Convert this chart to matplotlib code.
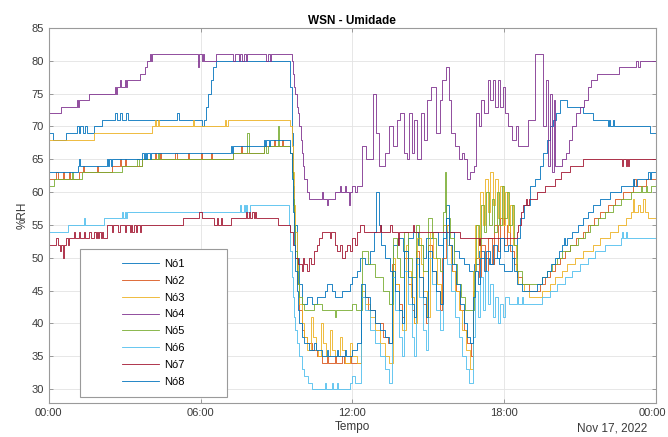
import matplotlib.pyplot as plt
import matplotlib.transforms as mtransforms
from matplotlib.patches import Rectangle

plt.rcParams['font.family'] = ['Liberation Sans', 'DejaVu Sans']

# (hora do dia, %RH)
no1 = [(0, 69), (0.15, 68), (0.7, 69), (1.1, 70), (1.2, 69), (1.25, 70), (1.35, 69), (1.45, 70), (1.5, 69),
       (1.8, 70), (2.1, 71), (2.6, 72), (2.7, 71), (2.8, 72), (2.9, 71), (3.05, 72), (3.15, 71), (5.05, 72),
       (5.15, 71), (6.05, 70), (6.15, 71), (6.2, 73), (6.3, 75), (6.4, 77), (6.5, 79), (6.6, 80),
       (9.55, 76), (9.6, 69), (9.65, 61), (9.7, 55), (9.8, 50), (9.9, 46), (10.0, 43), (10.2, 44), (10.4, 43),
       (10.6, 44), (10.9, 45), (11.0, 46), (11.2, 45), (11.3, 44), (11.6, 45), (11.9, 46), (12.0, 47),
       (12.2, 48), (12.3, 50), (12.5, 49), (12.7, 51), (12.85, 54), (12.95, 60), (13.05, 55), (13.15, 52),
       (13.3, 50), (13.5, 48), (13.6, 52), (13.8, 53), (14.0, 51), (14.2, 53), (14.4, 54), (14.6, 52),
       (14.8, 50), (14.9, 53), (15.2, 54), (15.4, 52), (15.6, 55), (15.7, 58), (15.8, 54), (16.0, 51),
       (16.2, 50), (16.4, 49), (16.6, 48), (16.8, 49), (17.0, 51), (17.2, 50), (17.4, 49), (17.6, 50),
       (17.8, 49), (18.0, 48), (18.3, 50), (18.5, 53), (18.62, 56), (18.8, 58), (19.02, 61), (19.2, 62),
       (19.41, 64), (19.55, 66), (19.69, 68), (19.8, 70), (19.93, 71), (20.05, 72), (20.2, 74), (20.5, 73),
       (21.1, 72), (21.5, 71), (22.1, 70), (22.15, 71), (22.2, 70), (22.3, 71), (22.35, 70), (23.75, 69),
       (24, 69)]

no2 = [(0, 62), (0.3, 63), (0.35, 62), (0.55, 63), (0.6, 62), (0.8, 63), (0.85, 62), (1.2, 63), (1.35, 64),
       (1.4, 63), (1.9, 64), (1.95, 63), (2.5, 64), (2.8, 65), (2.85, 64), (3.0, 65), (3.05, 64), (3.7, 65),
       (4.2, 66), (4.25, 65), (4.4, 66), (4.45, 65), (5.0, 66), (5.05, 65), (5.5, 66), (5.55, 65), (6.0, 66),
       (6.05, 65), (6.4, 66), (6.45, 65), (7.3, 66), (7.6, 67), (7.65, 66), (8.5, 67), (8.9, 68), (8.95, 67),
       (9.2, 68), (9.25, 67),
       (9.55, 66), (9.6, 63), (9.65, 58), (9.7, 54), (9.75, 50), (9.8, 46), (9.9, 42), (10.0, 39), (10.1, 38),
       (10.2, 37), (10.4, 36), (10.6, 35), (10.8, 34), (11.0, 35), (11.05, 34), (11.3, 35), (11.35, 34),
       (11.6, 35), (11.65, 34), (11.9, 35), (11.95, 34),
       (12.35, 44), (12.6, 42), (12.9, 40), (13.2, 38), (13.4, 37), (13.55, 49), (13.7, 46), (13.85, 43),
       (13.95, 41), (14.05, 50), (14.2, 46), (14.35, 42), (14.45, 40), (14.5, 51), (14.65, 47), (14.8, 43),
       (14.9, 40), (15.0, 52), (15.15, 48), (15.3, 45), (15.45, 42), (15.55, 50), (15.7, 55), (15.8, 52),
       (15.95, 48), (16.1, 45), (16.25, 42), (16.4, 39), (16.55, 37), (16.7, 35), (16.75, 45), (16.85, 50),
       (17.0, 47), (17.1, 52), (17.25, 48), (17.35, 53), (17.5, 49), (17.6, 55), (17.75, 51), (17.85, 56),
       (18.0, 52), (18.1, 55), (18.25, 51), (18.4, 49), (18.5, 47), (18.7, 46), (19.0, 45), (19.4, 46),
       (19.6, 47), (19.8, 48), (20.0, 49), (20.2, 50), (20.4, 51), (20.6, 52), (20.85, 53), (21.1, 54),
       (21.3, 55), (21.55, 56), (21.8, 57), (22.1, 58), (22.4, 59), (22.7, 60), (23.1, 61), (23.15, 62),
       (23.2, 61), (23.6, 62), (24, 62)]

no3 = [(0, 68), (1.8, 69), (4.1, 70), (4.2, 71), (4.25, 70), (4.3, 71), (4.35, 70), (5.7, 71), (5.75, 70),
       (6.95, 71), (7.0, 70), (7.1, 71),
       (9.55, 70), (9.6, 67), (9.65, 63), (9.7, 58), (9.75, 54), (9.8, 50), (9.85, 46), (9.9, 43), (10.0, 40),
       (10.1, 38), (10.2, 36), (10.35, 41), (10.45, 38), (10.55, 36), (10.65, 35), (10.75, 40), (10.85, 37),
       (10.95, 35), (11.1, 39), (11.2, 36), (11.3, 35), (11.5, 38), (11.6, 36), (11.7, 34), (11.9, 37),
       (12.0, 35), (12.2, 34),
       (12.35, 45), (12.5, 43), (12.7, 41), (12.9, 39), (13.1, 37), (13.3, 35), (13.45, 34), (13.6, 50),
       (13.7, 46), (13.85, 42), (13.95, 39), (14.1, 52), (14.2, 48), (14.3, 44), (14.45, 40), (14.55, 53),
       (14.7, 49), (14.8, 45), (14.95, 41), (15.05, 54), (15.2, 50), (15.35, 46), (15.5, 43), (15.6, 55),
       (15.75, 52), (15.9, 48), (16.05, 45), (16.2, 42), (16.35, 39), (16.5, 36), (16.65, 33), (16.75, 48),
       (16.85, 55), (16.95, 50), (17.05, 60), (17.15, 55), (17.25, 62), (17.35, 57), (17.45, 63), (17.55, 58),
       (17.65, 62), (17.75, 56), (17.85, 61), (17.95, 55), (18.05, 60), (18.15, 54), (18.25, 58), (18.35, 52),
       (18.45, 48), (18.55, 46), (18.8, 45), (19.0, 44), (19.5, 45), (19.8, 46), (20.0, 47), (20.3, 48),
       (20.5, 49), (20.8, 50), (21.1, 51), (21.5, 52), (21.8, 53), (22.2, 54), (22.5, 55), (22.8, 56),
       (23.0, 57), (23.1, 59), (23.15, 57), (23.3, 58), (23.35, 57), (23.5, 59), (23.55, 57), (23.7, 56),
       (24, 56)]

no4 = [(0, 72), (0.5, 73), (1.1, 74), (1.15, 73), (1.2, 74), (1.6, 75), (2.6, 76), (2.65, 75), (2.7, 76),
       (2.8, 77), (2.85, 76), (3.0, 77), (3.05, 76), (3.1, 77), (3.6, 78), (3.8, 79), (3.9, 80), (4.0, 81),
       (4.05, 80), (4.1, 81), (5.9, 79), (5.95, 81), (6.05, 80), (6.1, 81), (6.15, 80), (6.6, 81), (7.3, 80),
       (7.35, 81), (7.5, 80), (7.55, 81), (7.65, 80), (7.7, 81), (7.8, 80), (7.85, 81), (8.6, 80), (8.65, 81),
       (8.75, 80), (8.8, 81),
       (9.6, 80), (9.65, 78), (9.7, 76), (9.75, 75), (9.8, 73), (9.85, 72), (9.9, 70), (9.95, 68), (10.0, 66),
       (10.05, 64), (10.1, 62), (10.2, 60), (10.3, 59), (10.8, 60), (10.85, 59), (11.0, 58), (11.05, 59),
       (11.3, 60), (11.5, 61), (11.55, 60), (11.7, 61), (11.75, 60), (11.85, 58), (11.9, 60), (12.0, 61),
       (12.1, 60), (12.2, 61),
       (12.4, 67), (12.55, 65), (12.8, 75), (12.95, 69), (13.05, 64), (13.3, 66), (13.45, 70), (13.6, 67),
       (13.75, 71), (13.9, 72), (14.05, 66), (14.15, 65), (14.25, 72), (14.35, 66), (14.45, 71), (14.55, 65),
       (14.7, 72), (14.85, 68), (14.95, 74), (15.1, 76), (15.3, 69), (15.45, 74), (15.55, 77), (15.7, 79),
       (15.8, 74), (15.9, 69), (16.05, 67), (16.2, 65), (16.35, 66), (16.4, 65), (16.55, 62), (16.65, 63),
       (16.8, 64), (16.9, 72), (17.0, 70), (17.1, 74), (17.2, 72), (17.35, 77), (17.45, 74), (17.55, 77),
       (17.65, 73), (17.75, 77), (17.85, 73), (17.95, 76), (18.05, 72), (18.15, 70), (18.3, 68), (18.45, 70),
       (18.55, 67), (18.8, 67), (18.95, 71), (19.2, 81), (19.55, 70), (19.65, 77), (19.72, 64), (19.8, 75),
       (19.88, 63), (19.95, 74), (20.02, 64), (20.3, 65), (20.45, 66), (20.55, 68), (20.7, 70), (20.85, 72),
       (21.0, 73), (21.15, 74), (21.3, 76), (21.45, 77), (21.65, 78), (22.55, 79), (23.2, 80), (23.3, 79),
       (23.35, 80), (24, 80)]

no5 = [(0, 61), (0.2, 62), (0.9, 63), (0.95, 62), (1.3, 63), (2.9, 64), (3.5, 65), (3.55, 64), (3.7, 65),
       (4.3, 66), (4.35, 65), (7.3, 66), (7.85, 69), (7.9, 66), (8.5, 67), (8.6, 66), (8.65, 67), (9.05, 70),
       (9.1, 67),
       (9.55, 66), (9.6, 63), (9.65, 59), (9.7, 55), (9.75, 51), (9.8, 48), (9.85, 46), (9.9, 44), (10.0, 43),
       (10.1, 42), (10.5, 43), (10.8, 42), (11.3, 41), (11.35, 42), (12.0, 43), (12.15, 42),
       (12.4, 51), (12.6, 49), (12.9, 47), (13.2, 45), (13.45, 43), (13.6, 53), (13.75, 50), (13.9, 47),
       (14.05, 54), (14.2, 50), (14.35, 47), (14.5, 55), (14.65, 52), (14.8, 48), (15.0, 56), (15.15, 53),
       (15.3, 50), (15.45, 48), (15.6, 57), (15.68, 63), (15.72, 56), (15.85, 53), (16.0, 49), (16.15, 46),
       (16.3, 44), (16.45, 42), (16.8, 48), (16.9, 55), (17.0, 52), (17.1, 58), (17.2, 54), (17.3, 60),
       (17.4, 55), (17.5, 59), (17.6, 54), (17.7, 60), (17.8, 55), (17.9, 61), (18.0, 56), (18.1, 60),
       (18.2, 55), (18.3, 58), (18.4, 52), (18.5, 48), (18.7, 46), (19.5, 47), (19.7, 48), (19.9, 49),
       (20.1, 50), (20.3, 51), (20.6, 52), (20.9, 53), (21.2, 54), (21.4, 55), (21.7, 56), (22.0, 57),
       (22.3, 58), (22.6, 59), (23.0, 60), (23.4, 61), (23.45, 60), (23.6, 61), (23.65, 60), (23.8, 61),
       (24, 61)]

no6 = [(0, 54), (0.75, 55), (1.4, 56), (1.45, 55), (2.2, 56), (2.9, 57), (2.95, 56), (3.0, 57), (3.05, 56),
       (3.1, 57), (7.55, 58), (7.6, 57), (7.7, 58), (7.75, 57), (7.8, 58), (7.85, 57), (7.95, 58),
       (9.45, 58), (9.5, 55), (9.55, 51), (9.6, 47), (9.65, 44), (9.7, 41), (9.75, 39), (9.8, 37), (9.9, 35),
       (10.0, 33), (10.1, 32), (10.25, 31), (10.4, 30), (10.9, 31), (10.95, 30), (11.2, 31), (11.25, 30),
       (11.4, 31), (11.45, 30), (11.9, 31), (12.0, 32), (12.1, 31),
       (12.35, 44), (12.5, 42), (12.7, 39), (12.9, 37), (13.1, 35), (13.3, 33), (13.45, 31), (13.55, 47),
       (13.7, 42), (13.85, 38), (13.95, 35), (14.05, 48), (14.2, 43), (14.35, 38), (14.45, 35), (14.5, 49),
       (14.65, 44), (14.8, 39), (14.9, 36), (15.0, 50), (15.15, 46), (15.3, 42), (15.45, 39), (15.6, 54),
       (15.75, 49), (15.9, 45), (16.05, 41), (16.2, 38), (16.35, 35), (16.5, 33), (16.6, 31), (16.75, 38),
       (16.85, 45), (16.95, 41), (17.05, 47), (17.15, 42), (17.25, 48), (17.35, 43), (17.45, 46), (17.55, 41),
       (17.65, 44), (17.75, 40), (17.85, 43), (17.95, 41), (18.05, 44), (18.2, 43), (18.5, 44), (18.55, 43),
       (18.7, 44), (18.75, 43), (19.5, 44), (19.8, 45), (20.1, 46), (20.4, 47), (20.7, 48), (21.0, 49),
       (21.3, 50), (21.6, 51), (22.0, 52), (22.6, 53), (22.65, 54), (22.7, 53), (22.8, 54), (22.85, 53),
       (24, 53)]

no7 = [(0, 52), (0.3, 53), (0.35, 52), (0.45, 51), (0.5, 52), (0.55, 50), (0.6, 52), (0.7, 53), (0.75, 52),
       (0.8, 53), (1.0, 54), (1.05, 53), (1.2, 54), (1.25, 53), (1.4, 54), (1.45, 53), (1.6, 54), (1.65, 53),
       (1.8, 54), (1.85, 53), (1.9, 54), (1.95, 53), (2.0, 54), (2.05, 53), (2.1, 54), (2.15, 53), (2.3, 55),
       (2.5, 54), (2.55, 55), (2.75, 54), (2.8, 55), (3.0, 54), (3.05, 55), (3.2, 54), (3.25, 55), (3.3, 54),
       (3.35, 55), (3.45, 54), (3.5, 55), (3.6, 54), (3.65, 55), (5.3, 56), (5.95, 57), (6.05, 56), (6.55, 55),
       (6.65, 56), (6.7, 55), (6.8, 56), (6.85, 55), (7.2, 56), (7.8, 57), (7.85, 56), (7.9, 57), (7.95, 56),
       (8.05, 57), (8.1, 56), (8.15, 57), (8.2, 56), (9.05, 55),
       (9.55, 54), (9.65, 52), (9.75, 50), (9.85, 49), (10.0, 48), (10.05, 50), (10.1, 49), (10.2, 48),
       (10.3, 50), (10.35, 49), (10.5, 51), (10.6, 52), (10.7, 53), (10.8, 54), (11.1, 53), (11.15, 54),
       (11.3, 52), (11.4, 51), (11.5, 52), (11.6, 50), (11.7, 51), (11.8, 52), (11.9, 51), (12.0, 53),
       (12.1, 52), (12.2, 54), (12.3, 55), (12.45, 54), (13.1, 55), (13.15, 54), (13.5, 55), (13.55, 54),
       (13.8, 52), (13.85, 54), (14.4, 55), (14.45, 54), (16.25, 53), (17.0, 52), (17.05, 53), (18.5, 54),
       (18.55, 55), (18.65, 57), (18.75, 58), (18.85, 59), (18.9, 58), (19.0, 59), (19.3, 60), (19.6, 61),
       (20.0, 62), (20.25, 63), (20.6, 64), (21.1, 65), (22.65, 64), (22.7, 65), (22.8, 64), (22.85, 65),
       (22.9, 64), (22.95, 65), (24, 65)]

no8 = [(0, 63), (1.15, 64), (1.2, 65), (1.25, 64), (2.3, 65), (2.35, 64), (2.4, 65), (2.45, 64), (2.5, 65),
       (3.7, 66), (3.75, 65), (3.8, 66), (3.85, 65), (3.9, 66), (4.0, 65), (4.05, 66), (7.2, 67), (7.25, 66),
       (7.3, 67), (8.5, 68), (8.55, 67), (8.6, 68), (8.7, 67), (8.75, 68),
       (9.55, 66), (9.6, 62), (9.65, 57), (9.7, 52), (9.75, 48), (9.8, 45), (9.85, 42), (9.9, 40), (10.0, 38),
       (10.1, 37), (10.3, 36), (10.5, 37), (10.55, 36), (10.8, 35), (11.0, 36), (11.05, 35), (11.4, 36),
       (11.45, 35), (11.7, 36), (11.75, 35), (12.0, 36), (12.2, 37),
       (12.35, 46), (12.5, 44), (12.7, 42), (12.9, 40), (13.1, 39), (13.3, 38), (13.45, 37), (13.55, 48),
       (13.7, 45), (13.85, 42), (13.95, 40), (14.05, 51), (14.2, 47), (14.35, 43), (14.45, 41), (14.5, 50),
       (14.65, 47), (14.8, 44), (14.9, 41), (15.0, 51), (15.15, 48), (15.3, 45), (15.45, 43), (15.6, 53),
       (15.7, 56), (15.8, 52), (15.95, 49), (16.1, 46), (16.25, 43), (16.4, 40), (16.55, 38), (16.65, 37),
       (16.75, 44), (16.85, 48), (16.95, 46), (17.05, 50), (17.2, 48), (17.3, 51), (17.45, 49), (17.55, 52),
       (17.7, 50), (17.85, 53), (18.0, 51), (18.15, 52), (18.3, 50), (18.4, 48), (18.5, 46), (18.7, 45),
       (19.3, 46), (19.5, 47), (19.7, 48), (19.85, 49), (20.0, 50), (20.15, 51), (20.3, 52), (20.35, 53),
       (20.4, 52), (20.5, 53), (20.7, 54), (20.9, 55), (21.1, 56), (21.3, 57), (21.5, 58), (21.8, 59),
       (22.2, 60), (22.6, 61), (23.1, 62), (23.15, 61), (23.25, 62), (23.7, 63), (23.75, 62), (23.8, 63),
       (24, 63)]

node_names = ['Nó1', 'Nó2', 'Nó3', 'Nó4', 'Nó5', 'Nó6', 'Nó7', 'Nó8']
node_data = [no1, no2, no3, no4, no5, no6, no7, no8]
# cores padrão do MATLAB
node_colors = ['#0072BD', '#D95319', '#EDB120', '#7E2F8E',
               '#77AC30', '#4DBEEE', '#A2142F', '#0072BD']

hour_ticks = [0, 6, 12, 18, 24]
hour_labels = ['00:00', '06:00', '12:00', '18:00', '00:00']
rh_ticks = [30, 35, 40, 45, 50, 55, 60, 65, 70, 75, 80, 85]

fig = plt.figure(figsize=(6.68, 4.37), dpi=100)
ax = fig.add_axes([0.073, 0.078, 0.909, 0.858])

for name, data, c in zip(node_names, node_data, node_colors):
    t = [p[0] for p in data]
    v = [p[1] for p in data]
    ax.plot(t, v, drawstyle='steps-post', color=c, lw=0.6, label=name)

ax.set_xlim(0, 24)
ax.set_ylim(27.9, 85)
ax.set_xticks(hour_ticks)
ax.set_xticklabels(hour_labels)
ax.set_yticks(rh_ticks)
ax.grid(True, color='#e3e3e3', lw=0.6)
ax.set_axisbelow(True)
ax.tick_params(direction='in', length=3, width=0.6, colors='#8c8c8c',
               labelcolor='#3a3a3a', labelsize=8, top=True, right=True)
for s in ax.spines.values():
    s.set_color('#9a9a9a')
    s.set_linewidth(0.8)

# puxa o último rótulo "00:00" um pouco para dentro da figura
last = ax.get_xticklabels()[-1]
last.set_transform(last.get_transform() +
                   mtransforms.ScaledTranslation(-4 / 100, 0, fig.dpi_scale_trans))

ax.set_title('WSN - Umidade', fontsize=8.5, fontweight='bold', pad=3)
ax.set_xlabel('Tempo', fontsize=8.5, color='#3a3a3a', labelpad=2)
ax.set_ylabel('%RH', fontsize=8.5, color='#3a3a3a', labelpad=2)
ax.text(0.985, -0.067, 'Nov 17, 2022', transform=ax.transAxes, ha='right',
        va='center', fontsize=8.5, color='#3a3a3a')

# caixa da legenda
box = Rectangle((0.051, 0.016), 0.242, 0.395, transform=ax.transAxes,
                facecolor='white', edgecolor='#9a9a9a', lw=0.8, zorder=4)
ax.add_patch(box)
leg = ax.legend(loc='center', bbox_to_anchor=(0.051 + 0.121, 0.016 + 0.1975),
                frameon=False, fontsize=8, handlelength=3.3, handletextpad=0.5,
                labelspacing=0.62)
leg.set_zorder(5)

fig.savefig('out.png', dpi=100)
